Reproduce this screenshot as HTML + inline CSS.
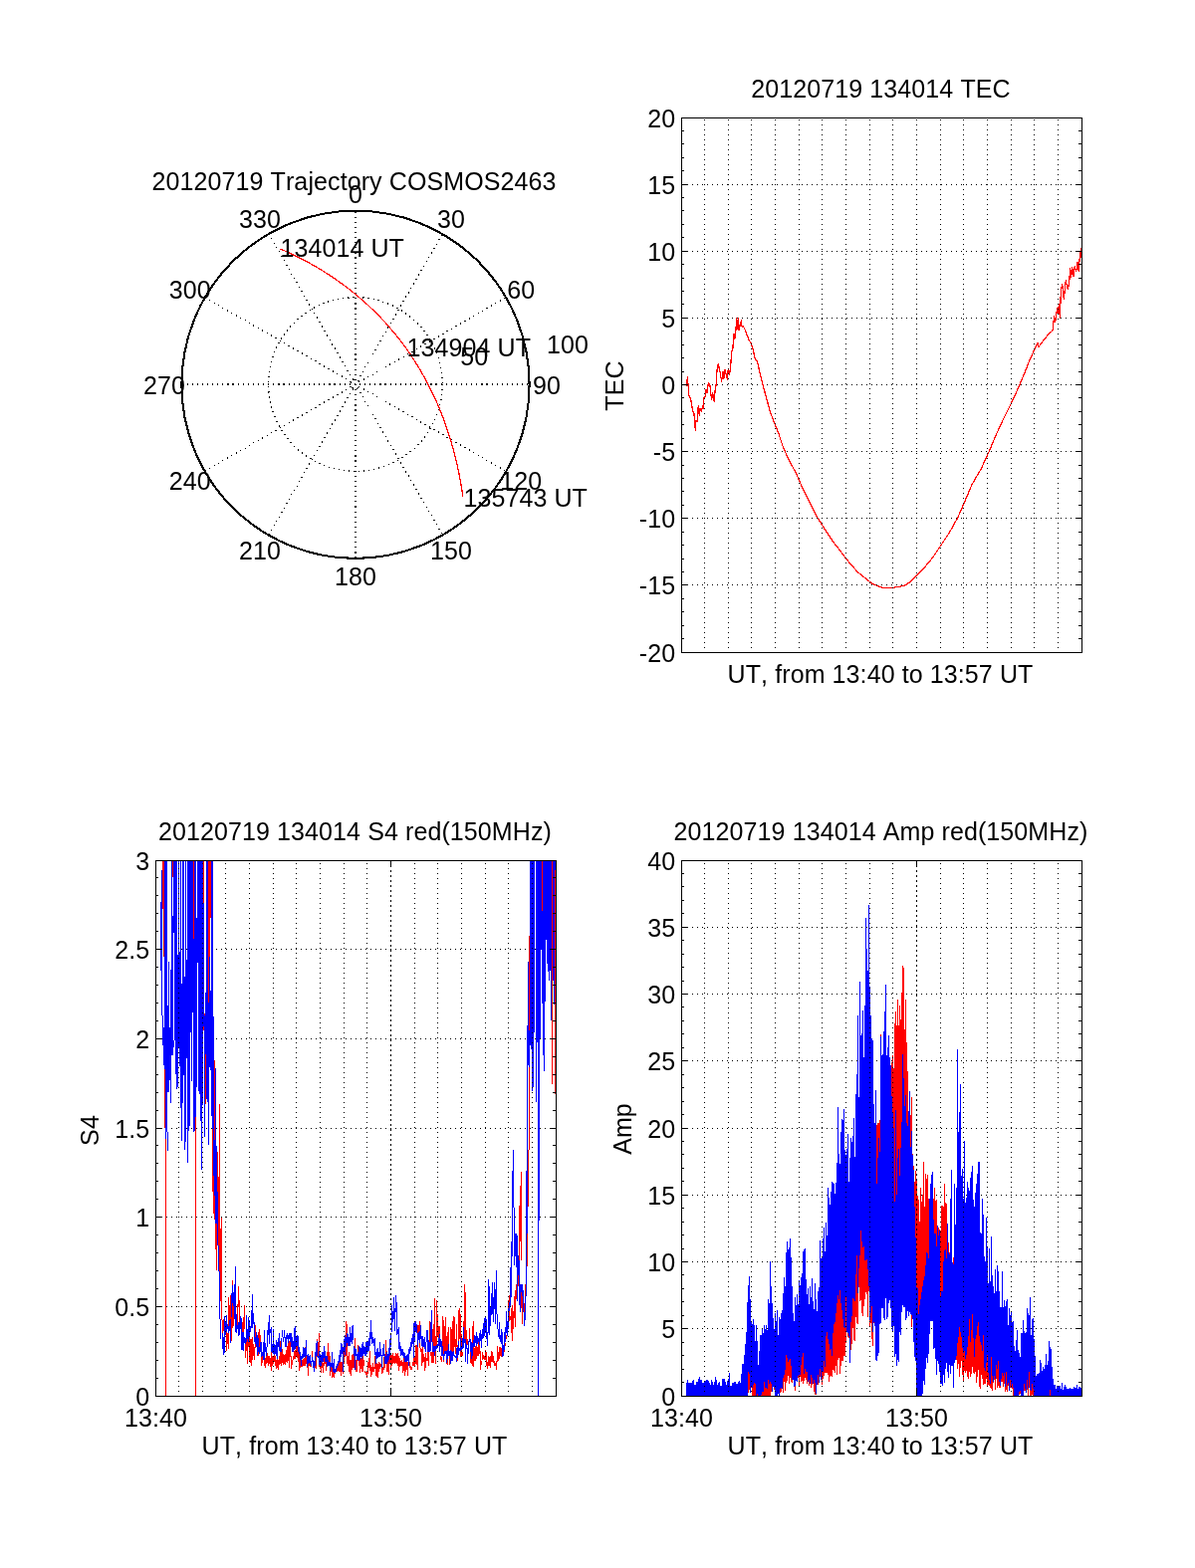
<!DOCTYPE html>
<html lang="en"><head><meta charset="utf-8"><title>20120719 134014 COSMOS2463 TEC / S4 / Amp</title>
<style>
html,body{margin:0;padding:0;background:#fff}
body{width:1200px;height:1575px;overflow:hidden}
svg{display:block}
text{font-family:"Liberation Sans",sans-serif;font-size:25px;fill:#000;font-kerning:none;letter-spacing:0.1px}
.ax{fill:none;stroke:#000;stroke-width:1;shape-rendering:crispEdges}
.gr{fill:none;stroke:#000;stroke-width:1;stroke-dasharray:1 4;shape-rendering:crispEdges}
.r{fill:none;stroke:#f00;stroke-width:1;shape-rendering:crispEdges}
.b{fill:none;stroke:#00f;stroke-width:1;shape-rendering:crispEdges}
.rl{fill:none;stroke:#f00;stroke-width:1.25;stroke-linejoin:round;shape-rendering:crispEdges}
.pg{fill:none;stroke:#000;stroke-width:1.25;stroke-dasharray:1.2 3.9;shape-rendering:crispEdges}
.pc{fill:none;stroke:#000;stroke-width:2.1;shape-rendering:crispEdges}
</style></head><body>
<svg width="1200" height="1575" viewBox="0 0 1200 1575">
<rect width="1200" height="1575" fill="#fff"/>
<g id="polar">
<path class="pg" d="M357 560.6L357 211.4M269.7 537.21L444.3 234.79M205.79 473.3L508.21 298.7M182.4 386L531.6 386M205.79 298.7L508.21 473.3M269.7 234.79L444.3 537.21"/>
<circle class="pg" cx="357.0" cy="386.0" r="87.3"/>
<circle class="pg" cx="357.0" cy="386.0" r="4.8"/>
<circle class="pc" cx="357.0" cy="386.3" r="174.6"/>
<path class="rl" d="M281.6 250L288.9 253.3L296.3 256.8L303.5 260.4L310.6 264.2L317.7 268.2L324.6 272.4L331.5 276.8L338.2 281.4L344.8 286.1L351.2 291L357.6 296.1L363.7 301.4L369.8 306.8L375.6 312.4L381.3 318.1L386.9 324L392.2 330.1L397.4 336.3L402.4 342.6L407.3 349.1L411.9 355.7L416.4 362.5L420.6 369.4L424.7 376.4L428.6 383.5L432.3 390.7L435.9 398L439.2 405.4L442.3 412.9L445.3 420.4L448 428.1L450.6 435.8L453 443.6L455.2 451.4L457.2 459.2L459.1 467.1L460.8 475L462.3 483L463.7 490.9L464.9 498.9"/>
<text x="357" y="203.64" text-anchor="middle">0</text>
<text x="453.03" y="229.37" text-anchor="middle">30</text>
<text x="523.33" y="299.67" text-anchor="middle">60</text>
<text x="549.06" y="395.7" text-anchor="middle">90</text>
<text x="523.33" y="491.73" text-anchor="middle">120</text>
<text x="453.03" y="562.03" text-anchor="middle">150</text>
<text x="357" y="587.76" text-anchor="middle">180</text>
<text x="260.97" y="562.03" text-anchor="middle">210</text>
<text x="190.67" y="491.73" text-anchor="middle">240</text>
<text x="164.94" y="395.7" text-anchor="middle">270</text>
<text x="190.67" y="299.67" text-anchor="middle">300</text>
<text x="260.97" y="229.37" text-anchor="middle">330</text>
<text x="549" y="354.6" text-anchor="start">100</text>
<text x="462.3" y="366.7" text-anchor="start">50</text>
<text x="281.4" y="258.4" text-anchor="start">134014 UT</text>
<text x="408.5" y="358.2" text-anchor="start">134904 UT</text>
<text x="465.4" y="508.7" text-anchor="start">135743 UT</text>
<text x="355.5" y="190.8" text-anchor="middle">20120719 Trajectory COSMOS2463</text>
</g>
<g id="tec">
<path class="gr" d="M685 587.5H1086M685 520.5H1086M685 453.5H1086M685 386.5H1086M685 319.5H1086M685 252.5H1086M685 185.5H1086"/>
<path class="rl" d="M689.4 387.5L690.4 378.8L691.9 397.5L693.75 401.25L695.6 412.5L696.9 415L698.4 432.5L698.75 422.5L700 423.75L701.25 407.5L702.25 417.5L703.1 410L704.4 413L705.6 407.5L706.5 410L706.9 400L708.1 398.75L709 391.25L710 395L711.25 385L712.75 386.25L713.5 392.5L714.6 401.9L715.6 394.4L717.1 403.1L718.1 392.5L719.4 385L720 371.25L721.25 365.6L723.1 373.75L724.6 383.1L726 373.75L726.9 380L728.1 371.25L729.4 377.5L730.4 381.25L731.25 370.6L732.5 376.25L733.75 367.5L734.6 353.75L735.9 350L736.9 335.6L737.9 340L738.75 333.75L739.75 319.4L740.6 330.6L741.5 319.4L742.1 331.9L743.4 325L744.4 321.9L745 328.1L746.25 327.5L748.1 331.25L750 336.25L751.9 341.25L754.4 345L756.25 351.25L758.1 360L760.6 363.75L763.1 375L766.25 387.5L770 401.25L773.75 415L775.8 420L781.7 435L786.7 450L791.7 460.8L800 476.7L805.8 490L813.3 505L820 518.3L828.3 531.7L836.7 544.2L845 555L853.3 565.8L861.7 575L870 581.7L876.7 586.7L885 590L894.2 590.8L903.3 589.2L908.3 588.3L913.3 585L920 578.3L928.3 570L936.7 560L945 547.5L953.3 535L961.7 520L968.3 505L976 486.7L985.3 470.7L993.3 453.3L1000 437.3L1006.7 422.7L1014.7 406.7L1022.7 389.3L1028 376.7L1033.3 363.3L1038.7 351.3L1040.7 347.3L1042 344.7L1042.9 348.7L1046.7 343.3L1052 336.7L1057 332L1058 323.3L1058.7 318L1059.6 323.3L1060.7 316.7L1061.6 310L1062.7 315.3L1063.3 306L1064.4 319.3L1065.3 292.7L1066.7 285.3L1067.6 295.3L1068.4 300.7L1069.3 290L1070.4 281.3L1071.3 287.3L1072.4 290.7L1073.7 283.3L1074.7 269.3L1075.7 278L1076.7 268.7L1078 277.3L1079.3 267.3L1080.7 272.7L1082 263.3L1083.3 272.7L1084 260.7L1084.7 258.7L1085.3 249.3L1085.7 258.7"/>
<path class="gr" d="M707.5 656V119M731.5 656V119M754.5 656V119M778.5 656V119M802.5 656V119M825.5 656V119M849.5 656V119M873.5 656V119M896.5 656V119M920.5 656V119M944.5 656V119M967.5 656V119M991.5 656V119M1015.5 656V119M1038.5 656V119M1062.5 656V119"/>
<path class="ax" d="M684.5 118.5H1086.5V655.5H684.5Z"/>
<path class="ax" d="M684 655.5h7M1087 655.5h-7M684 587.5h7M1087 587.5h-7M684 520.5h7M1087 520.5h-7M684 453.5h7M1087 453.5h-7M684 386.5h7M1087 386.5h-7M684 319.5h7M1087 319.5h-7M684 252.5h7M1087 252.5h-7M684 185.5h7M1087 185.5h-7M684 118.5h7M1087 118.5h-7M684 641.5h3M1087 641.5h-4M684 628.5h3M1087 628.5h-4M684 614.5h3M1087 614.5h-4M684 601.5h3M1087 601.5h-4M684 574.5h3M1087 574.5h-4M684 561.5h3M1087 561.5h-4M684 547.5h3M1087 547.5h-4M684 534.5h3M1087 534.5h-4M684 507.5h3M1087 507.5h-4M684 493.5h3M1087 493.5h-4M684 480.5h3M1087 480.5h-4M684 467.5h3M1087 467.5h-4M684 440.5h3M1087 440.5h-4M684 426.5h3M1087 426.5h-4M684 413.5h3M1087 413.5h-4M684 399.5h3M1087 399.5h-4M684 373.5h3M1087 373.5h-4M684 359.5h3M1087 359.5h-4M684 346.5h3M1087 346.5h-4M684 332.5h3M1087 332.5h-4M684 305.5h3M1087 305.5h-4M684 292.5h3M1087 292.5h-4M684 279.5h3M1087 279.5h-4M684 265.5h3M1087 265.5h-4M684 238.5h3M1087 238.5h-4M684 225.5h3M1087 225.5h-4M684 211.5h3M1087 211.5h-4M684 198.5h3M1087 198.5h-4M684 171.5h3M1087 171.5h-4M684 158.5h3M1087 158.5h-4M684 144.5h3M1087 144.5h-4M684 131.5h3M1087 131.5h-4"/>
<text x="678.2" y="664.8" text-anchor="end">-20</text>
<text x="678.2" y="596.8" text-anchor="end">-15</text>
<text x="678.2" y="529.8" text-anchor="end">-10</text>
<text x="678.2" y="462.8" text-anchor="end">-5</text>
<text x="678.2" y="395.8" text-anchor="end">0</text>
<text x="678.2" y="328.8" text-anchor="end">5</text>
<text x="678.2" y="261.8" text-anchor="end">10</text>
<text x="678.2" y="194.8" text-anchor="end">15</text>
<text x="678.2" y="127.8" text-anchor="end">20</text>
<text x="884.5" y="97.5" text-anchor="middle">20120719 134014 TEC</text>
<text x="884" y="685.5" text-anchor="middle">UT, from 13:40 to 13:57 UT</text>
<text x="626" y="387.5" text-anchor="middle" transform="rotate(-90 626 387.5)">TEC</text>
</g>
<g id="s4">
<path class="gr" d="M157 1312.5H558M157 1222.5H558M157 1133.5H558M157 1043.5H558M157 953.5H558"/>
<path class="r" d="M223.5 1326V1345M224.5 1325V1337M227.5 1338V1357M228.5 1339V1350M229.5 1303V1355M230.5 1311V1327M231.5 1301V1325M232.5 1323V1347M233.5 1286V1334M234.5 1312V1332M238.5 1310V1331M239.5 1292V1313M240.5 1306V1335M243.5 1328V1338M244.5 1323V1338M245.5 1311V1335M246.5 1350V1364M247.5 1348V1357M248.5 1345V1370M249.5 1342V1353M250.5 1343V1368M251.5 1345V1369M252.5 1345V1372M253.5 1343V1366M254.5 1350V1362M255.5 1353V1366M256.5 1331V1354M258.5 1358V1362M259.5 1338V1362M260.5 1335V1353M261.5 1341V1354M262.5 1363V1372M263.5 1362V1369M265.5 1366V1372M266.5 1364V1374M267.5 1362V1370M268.5 1359V1369M269.5 1362V1372M270.5 1362V1370M271.5 1364V1373M272.5 1357V1377M273.5 1362V1372M274.5 1362V1370M275.5 1361V1368M276.5 1362V1372M277.5 1366V1375M278.5 1365V1374M279.5 1366V1376M280.5 1362V1371M281.5 1347V1370M282.5 1358V1372M283.5 1355V1369M284.5 1360V1371M285.5 1361V1370M286.5 1360V1371M287.5 1356V1368M288.5 1352V1369M289.5 1349V1367M290.5 1347V1374M291.5 1348V1363M292.5 1362V1375M293.5 1366V1371M294.5 1362V1366M295.5 1357V1365M296.5 1356V1365M297.5 1353V1362M298.5 1352V1364M299.5 1353V1368M300.5 1358V1377M301.5 1366V1374M302.5 1368V1373M303.5 1366V1373M304.5 1365V1372M305.5 1364V1372M306.5 1353V1372M307.5 1362V1370M308.5 1372V1374M309.5 1370V1382M310.5 1369V1372M311.5 1370V1373M312.5 1371V1373M313.5 1357V1363M316.5 1371V1374M317.5 1362V1375M318.5 1345V1353M319.5 1348V1362M320.5 1339V1373M321.5 1370V1375M322.5 1372V1379M323.5 1368V1374M324.5 1369V1379M325.5 1364V1372M326.5 1357V1370M327.5 1368V1377M328.5 1358V1373M329.5 1349V1368M330.5 1358V1372M331.5 1362V1382M332.5 1373V1378M333.5 1374V1384M334.5 1376V1383M335.5 1375V1384M336.5 1378V1380M337.5 1374V1378M338.5 1372V1378M339.5 1370V1377M340.5 1368V1378M341.5 1367V1378M342.5 1368V1382M343.5 1368V1378M344.5 1372V1380M345.5 1346V1370M346.5 1360V1363M347.5 1327V1362M348.5 1330V1370M349.5 1362V1372M350.5 1358V1378M351.5 1366V1380M352.5 1366V1382M353.5 1361V1376M354.5 1360V1374M355.5 1362V1374M356.5 1344V1373M357.5 1366V1378M358.5 1366V1378M359.5 1351V1367M360.5 1367V1372M361.5 1366V1379M362.5 1364V1375M363.5 1363V1378M364.5 1358V1378M365.5 1366V1372M366.5 1377V1379M367.5 1378V1381M368.5 1378V1384M369.5 1368V1380M370.5 1364V1374M371.5 1357V1377M372.5 1371V1383M373.5 1373V1381M374.5 1369V1378M375.5 1373V1378M376.5 1362V1375M377.5 1370V1382M378.5 1369V1383M379.5 1370V1384M380.5 1368V1378M381.5 1369V1375M382.5 1370V1373M383.5 1374V1380M384.5 1373V1379M385.5 1363V1376M386.5 1360V1374M387.5 1346V1362M388.5 1357V1378M389.5 1365V1378M390.5 1361V1381M391.5 1353V1370M392.5 1360V1375M393.5 1361V1372M394.5 1359V1370M395.5 1362V1369M396.5 1362V1370M397.5 1359V1369M398.5 1360V1370M399.5 1359V1372M400.5 1362V1377M401.5 1364V1373M402.5 1367V1372M403.5 1366V1372M404.5 1368V1379M405.5 1364V1377M406.5 1368V1382M407.5 1367V1378M408.5 1368V1376M409.5 1368V1382M410.5 1368V1372M411.5 1368V1374M412.5 1372V1376M413.5 1373V1376M414.5 1368V1372M415.5 1364V1372M416.5 1363V1372M417.5 1351V1370M418.5 1351V1371M419.5 1331V1376M420.5 1331V1338M421.5 1327V1354M422.5 1354V1358M423.5 1355V1372M424.5 1353V1369M425.5 1360V1368M426.5 1363V1377M427.5 1359V1374M428.5 1364V1367M429.5 1358V1367M430.5 1358V1372M431.5 1327V1353M432.5 1358V1362M433.5 1358V1369M434.5 1335V1369M435.5 1330V1369M436.5 1304V1362M437.5 1342V1370M438.5 1306V1351M439.5 1320V1342M440.5 1332V1344M441.5 1332V1341M442.5 1362V1366M443.5 1363V1368M444.5 1322V1361M445.5 1326V1368M446.5 1332V1358M447.5 1323V1358M448.5 1342V1370M449.5 1338V1371M450.5 1333V1350M451.5 1362V1371M452.5 1333V1357M453.5 1335V1358M454.5 1327V1362M455.5 1322V1362M456.5 1323V1353M457.5 1345V1360M458.5 1330V1353M459.5 1351V1367M460.5 1316V1347M461.5 1314V1345M462.5 1320V1363M463.5 1340V1363M464.5 1358V1362M465.5 1327V1333M466.5 1290V1345M467.5 1298V1346M468.5 1336V1350M469.5 1345V1351M470.5 1352V1353M471.5 1334V1345M472.5 1358V1369M473.5 1365V1370M474.5 1332V1372M475.5 1327V1373M476.5 1354V1367M477.5 1352V1367M478.5 1351V1365M479.5 1353V1362M480.5 1348V1362M481.5 1350V1360M482.5 1357V1376M483.5 1367V1371M484.5 1358V1366M485.5 1361V1365M486.5 1362V1366M487.5 1356V1366M488.5 1358V1372M489.5 1368V1375M490.5 1362V1372M491.5 1363V1372M492.5 1362V1374M493.5 1357V1368M494.5 1358V1368M495.5 1362V1369M496.5 1367V1372M497.5 1369V1372M498.5 1367V1376M499.5 1352V1368M500.5 1358V1367M501.5 1353V1365M502.5 1353V1362M503.5 1354V1363M504.5 1357V1363M505.5 1356V1358M506.5 1356V1358M507.5 1349V1352M508.5 1341V1345M509.5 1335V1342M163.5 865V913M164.5 865V961M165.5 1060V1133M166.5 1100V1402M173.5 865V881M194.5 865V943M196.5 1100V1402M204.5 865V907M204.5 1031V1035M205.5 1018V1020M206.5 1059V1109M209.5 865V1007M210.5 865V961M211.5 865V922M213.5 1134V1197M214.5 1181V1219M215.5 1065V1225M216.5 1168V1255M217.5 1200V1276M218.5 1157V1197M219.5 1182V1251M220.5 1109V1277M221.5 1234V1307M222.5 1223V1326M510.5 1306V1314M511.5 1301V1327M512.5 1322V1326M513.5 1314V1339M514.5 1311V1347M515.5 1317V1335M516.5 1302V1324M517.5 1296V1333M518.5 1290V1305M520.5 1281V1292M521.5 1211V1266M522.5 1191V1247M523.5 1177V1266M523.5 1298V1314M524.5 1302V1330M526.5 1309V1318M527.5 1290V1302M529.5 1239V1272M530.5 1155V1212M531.5 940V1155M544.5 865V915M554.5 865V1089M557.5 865V1099"/>
<path class="b" d="M223.5 1339V1355M224.5 1343V1361M225.5 1322V1359M226.5 1328V1341M227.5 1321V1338M228.5 1330V1335M229.5 1332V1339M230.5 1326V1337M231.5 1325V1349M232.5 1299V1323M233.5 1291V1309M234.5 1298V1312M235.5 1290V1325M236.5 1272V1338M237.5 1320V1339M238.5 1331V1335M239.5 1328V1342M240.5 1328V1341M241.5 1322V1335M242.5 1324V1356M243.5 1338V1356M244.5 1338V1357M245.5 1343V1349M246.5 1344V1350M247.5 1321V1348M248.5 1335V1345M249.5 1323V1348M250.5 1326V1343M251.5 1332V1338M252.5 1316V1334M253.5 1300V1334M254.5 1319V1330M255.5 1328V1348M256.5 1343V1350M257.5 1338V1353M258.5 1341V1361M259.5 1344V1358M260.5 1353V1360M261.5 1348V1358M262.5 1348V1363M263.5 1358V1362M264.5 1348V1366M265.5 1336V1366M266.5 1349V1358M267.5 1353V1362M268.5 1336V1353M269.5 1328V1341M270.5 1321V1350M271.5 1335V1339M272.5 1333V1358M273.5 1350V1359M274.5 1335V1360M275.5 1350V1361M276.5 1351V1360M277.5 1346V1362M278.5 1348V1365M279.5 1344V1353M280.5 1339V1357M281.5 1353V1358M282.5 1344V1358M283.5 1336V1343M284.5 1343V1348M285.5 1336V1344M286.5 1343V1353M287.5 1341V1353M288.5 1339V1345M289.5 1341V1349M290.5 1339V1345M291.5 1339V1348M292.5 1339V1353M293.5 1343V1358M294.5 1347V1358M295.5 1334V1356M296.5 1332V1355M297.5 1342V1353M298.5 1341V1352M299.5 1342V1358M300.5 1353V1360M301.5 1358V1366M302.5 1362V1372M303.5 1360V1365M304.5 1353V1364M305.5 1354V1363M306.5 1354V1364M307.5 1346V1362M308.5 1361V1373M309.5 1360V1370M310.5 1362V1369M311.5 1361V1370M312.5 1367V1372M313.5 1363V1368M314.5 1366V1374M315.5 1367V1378M316.5 1358V1372M317.5 1349V1362M318.5 1347V1363M319.5 1362V1364M320.5 1357V1371M321.5 1360V1372M322.5 1361V1372M323.5 1358V1368M324.5 1358V1368M325.5 1352V1364M326.5 1357V1368M327.5 1362V1368M328.5 1362V1373M329.5 1366V1372M330.5 1368V1372M331.5 1368V1377M332.5 1369V1373M333.5 1358V1374M334.5 1369V1378M335.5 1365V1379M336.5 1375V1379M337.5 1372V1378M338.5 1370V1374M339.5 1367V1372M340.5 1361V1369M341.5 1356V1368M342.5 1349V1363M343.5 1350V1360M344.5 1353V1378M345.5 1345V1357M346.5 1341V1361M347.5 1343V1353M348.5 1339V1349M349.5 1340V1352M350.5 1343V1352M351.5 1333V1352M352.5 1339V1348M353.5 1332V1350M354.5 1331V1346M355.5 1352V1362M356.5 1354V1376M357.5 1355V1362M358.5 1360V1366M359.5 1358V1366M360.5 1352V1367M361.5 1353V1366M362.5 1354V1363M363.5 1350V1365M364.5 1348V1362M365.5 1352V1360M366.5 1353V1362M367.5 1348V1362M368.5 1348V1360M369.5 1347V1358M370.5 1344V1357M371.5 1338V1352M372.5 1326V1345M373.5 1338V1350M374.5 1343V1349M375.5 1345V1352M376.5 1344V1361M377.5 1358V1370M378.5 1355V1365M379.5 1354V1364M380.5 1358V1363M381.5 1348V1363M382.5 1355V1362M383.5 1361V1374M384.5 1354V1362M385.5 1350V1362M386.5 1360V1370M387.5 1362V1370M388.5 1358V1370M389.5 1360V1368M390.5 1354V1366M391.5 1345V1362M392.5 1340V1353M393.5 1311V1338M394.5 1317V1328M395.5 1303V1325M396.5 1314V1337M397.5 1301V1318M398.5 1308V1341M399.5 1335V1340M400.5 1333V1355M401.5 1348V1357M402.5 1352V1362M403.5 1355V1361M404.5 1355V1362M405.5 1358V1364M406.5 1359V1368M407.5 1362V1368M408.5 1361V1368M409.5 1360V1367M410.5 1355V1372M411.5 1353V1360M412.5 1348V1357M413.5 1344V1353M414.5 1340V1350M415.5 1329V1364M416.5 1327V1347M417.5 1327V1338M418.5 1330V1339M419.5 1339V1353M420.5 1338V1346M421.5 1337V1349M422.5 1331V1345M423.5 1342V1352M424.5 1342V1353M425.5 1345V1353M426.5 1343V1355M427.5 1348V1358M428.5 1336V1348M429.5 1336V1358M430.5 1346V1358M431.5 1348V1358M432.5 1328V1357M433.5 1316V1348M434.5 1348V1358M435.5 1352V1358M436.5 1352V1362M437.5 1352V1357M438.5 1351V1355M439.5 1350V1354M440.5 1344V1352M441.5 1340V1358M442.5 1345V1353M443.5 1347V1362M444.5 1352V1362M445.5 1360V1366M446.5 1357V1362M447.5 1357V1360M448.5 1357V1369M449.5 1356V1365M450.5 1350V1362M451.5 1357V1362M452.5 1356V1370M453.5 1357V1367M454.5 1358V1367M455.5 1357V1362M456.5 1361V1363M457.5 1362V1364M458.5 1354V1368M459.5 1353V1364M460.5 1347V1361M461.5 1354V1357M462.5 1344V1357M463.5 1352V1356M464.5 1344V1355M465.5 1333V1354M466.5 1345V1349M467.5 1345V1368M468.5 1350V1355M469.5 1354V1370M470.5 1347V1360M471.5 1345V1348M472.5 1345V1358M473.5 1348V1365M474.5 1349V1362M475.5 1346V1353M476.5 1341V1353M477.5 1342V1349M478.5 1338V1352M479.5 1342V1350M480.5 1344V1348M481.5 1339V1351M482.5 1336V1347M483.5 1340V1354M484.5 1335V1345M485.5 1329V1344M486.5 1324V1342M487.5 1322V1339M488.5 1325V1345M489.5 1338V1352M490.5 1285V1339M491.5 1292V1341M492.5 1313V1332M493.5 1299V1321M494.5 1288V1320M495.5 1303V1328M496.5 1288V1315M497.5 1295V1330M498.5 1276V1320M499.5 1320V1335M500.5 1335V1343M501.5 1328V1345M502.5 1341V1348M503.5 1335V1350M504.5 1338V1363M505.5 1351V1362M506.5 1338V1356M507.5 1333V1348M508.5 1317V1339M509.5 1327V1342M161.5 906V975M162.5 874V1020M163.5 1020V1050M164.5 1032V1070M165.5 865V1074M166.5 865V1144M167.5 865V1137M168.5 1010V1097M168.5 1137V1156M169.5 966V1097M170.5 1032V1085M171.5 974V1108M172.5 865V1060M173.5 920V1060M174.5 865V937M174.5 1045V1052M175.5 865V1045M176.5 865V1079M177.5 865V1094M178.5 959V1092M179.5 865V1053M180.5 956V1071M181.5 865V1113M182.5 988V1146M183.5 865V1108M184.5 865V1080M185.5 981V1155M186.5 865V1147M187.5 964V1063M188.5 865V1168M189.5 865V1136M190.5 865V1131M191.5 865V1037M192.5 865V1086M193.5 865V1017M194.5 943V1137M195.5 865V1136M196.5 865V1122M197.5 922V1092M198.5 865V967M199.5 865V1096M200.5 865V1099M201.5 865V1126M202.5 865V1175M203.5 865V1110M204.5 907V1031M205.5 1020V1142M206.5 997V1059M207.5 865V1104M208.5 865V1107M209.5 1007V1150M210.5 961V1072M211.5 995V1075M212.5 865V1121M213.5 865V1134M214.5 1021V1181M215.5 1145V1201M216.5 1073V1229M217.5 1151V1229M218.5 1197V1251M219.5 1251V1277M220.5 1277V1325M221.5 1325V1345M510.5 1314V1335M511.5 1308V1317M512.5 1273V1312M513.5 1247V1303M514.5 1176V1262M515.5 1155V1213M516.5 1213V1271M517.5 1239V1262M518.5 1239V1273M519.5 1241V1307M520.5 1261V1281M521.5 1266V1311M522.5 1290V1318M523.5 1290V1298M524.5 1290V1302M525.5 1296V1318M526.5 1318V1332M527.5 1302V1326M528.5 1176V1302M529.5 1030V1239M530.5 966V1070M531.5 1035V1072M532.5 865V1050M533.5 865V1054M534.5 865V1096M535.5 865V1092M536.5 865V1037M538.5 865V1107M539.5 865V1047M540.5 865V1402M541.5 865V1226M542.5 865V1043M543.5 865V954M544.5 915V1008M545.5 865V1060M546.5 865V1076M547.5 865V1006M548.5 865V944M549.5 865V968M550.5 865V976M551.5 865V985M552.5 865V975M553.5 865V1025M555.5 865V985M556.5 865V1009M557.5 865V874"/>
<path class="gr" d="M179.5 1403V865M203.5 1403V865M226.5 1403V865M250.5 1403V865M274.5 1403V865M297.5 1403V865M321.5 1403V865M345.5 1403V865M368.5 1403V865M416.5 1403V865M439.5 1403V865M463.5 1403V865M487.5 1403V865M510.5 1403V865M534.5 1403V865"/>
<path class="gr" d="M392.5 1401V865"/>
<path class="gr" d="M392.5 1400V865"/>
<path class="ax" d="M156.5 864.5H558.5V1402.5H156.5Z"/>
<path class="ax" d="M156 1402.5h7M559 1402.5h-7M156 1312.5h7M559 1312.5h-7M156 1222.5h7M559 1222.5h-7M156 1133.5h7M559 1133.5h-7M156 1043.5h7M559 1043.5h-7M156 953.5h7M559 953.5h-7M156 864.5h7M559 864.5h-7M156 1384.5h3M559 1384.5h-4M156 1366.5h3M559 1366.5h-4M156 1348.5h3M559 1348.5h-4M156 1330.5h3M559 1330.5h-4M156 1294.5h3M559 1294.5h-4M156 1276.5h3M559 1276.5h-4M156 1258.5h3M559 1258.5h-4M156 1240.5h3M559 1240.5h-4M156 1204.5h3M559 1204.5h-4M156 1186.5h3M559 1186.5h-4M156 1168.5h3M559 1168.5h-4M156 1150.5h3M559 1150.5h-4M156 1115.5h3M559 1115.5h-4M156 1097.5h3M559 1097.5h-4M156 1079.5h3M559 1079.5h-4M156 1061.5h3M559 1061.5h-4M156 1025.5h3M559 1025.5h-4M156 1007.5h3M559 1007.5h-4M156 989.5h3M559 989.5h-4M156 971.5h3M559 971.5h-4M156 935.5h3M559 935.5h-4M156 917.5h3M559 917.5h-4M156 899.5h3M559 899.5h-4M156 881.5h3M559 881.5h-4M156.5 1403v-8M156.5 864v7M392.5 1403v-8M392.5 864v7"/>
<text x="150.2" y="1411.8" text-anchor="end">0</text>
<text x="150.2" y="1321.8" text-anchor="end">0.5</text>
<text x="150.2" y="1231.8" text-anchor="end">1</text>
<text x="150.2" y="1142.8" text-anchor="end">1.5</text>
<text x="150.2" y="1052.8" text-anchor="end">2</text>
<text x="150.2" y="962.8" text-anchor="end">2.5</text>
<text x="150.2" y="873.8" text-anchor="end">3</text>
<text x="156.5" y="1432.5" text-anchor="middle">13:40</text>
<text x="392.5" y="1432.5" text-anchor="middle">13:50</text>
<text x="356.5" y="843.5" text-anchor="middle">20120719 134014 S4 red(150MHz)</text>
<text x="356" y="1460.5" text-anchor="middle">UT, from 13:40 to 13:57 UT</text>
<text x="99" y="1135.5" text-anchor="middle" transform="rotate(-90 99 1135.5)">S4</text>
</g>
<g id="amp">
<path class="gr" d="M685 1334.5H1086M685 1267.5H1086M685 1200.5H1086M685 1133.5H1086M685 1065.5H1086M685 998.5H1086M685 931.5H1086"/>
<path class="r" d="M689.5 1401V1402M690.5 1401V1402M691.5 1401V1402M692.5 1401V1402M693.5 1401V1402M694.5 1401V1402M695.5 1401V1402M696.5 1401V1402M697.5 1401V1402M698.5 1401V1402M699.5 1401V1402M700.5 1401V1402M701.5 1401V1402M702.5 1401V1402M703.5 1401V1402M704.5 1401V1402M705.5 1401V1402M706.5 1401V1402M707.5 1401V1402M708.5 1401V1402M709.5 1401V1402M710.5 1401V1402M711.5 1401V1402M712.5 1401V1402M713.5 1401V1402M714.5 1401V1402M715.5 1401V1402M716.5 1401V1402M717.5 1401V1402M718.5 1401V1402M719.5 1401V1402M720.5 1401V1402M721.5 1401V1402M722.5 1401V1402M723.5 1401V1402M724.5 1401V1402M725.5 1401V1402M726.5 1401V1402M727.5 1401V1402M728.5 1401V1402M729.5 1401V1402M730.5 1401V1402M731.5 1401V1402M732.5 1401V1402M733.5 1401V1402M734.5 1401V1402M735.5 1401V1402M736.5 1401V1402M737.5 1401V1402M738.5 1401V1402M739.5 1401V1402M740.5 1401V1402M741.5 1401V1402M742.5 1401V1402M743.5 1401V1402M744.5 1401V1402M745.5 1401V1402M746.5 1401V1402M747.5 1401V1402M748.5 1401V1402M749.5 1401V1402M751.5 1377V1399M752.5 1379V1396M754.5 1391V1394M755.5 1393V1402M756.5 1390V1402M757.5 1388V1402M758.5 1389V1402M759.5 1401V1402M760.5 1399V1402M761.5 1401V1402M762.5 1401V1402M763.5 1401V1402M764.5 1400V1402M765.5 1397V1402M766.5 1397V1402M767.5 1387V1402M768.5 1393V1402M769.5 1393V1402M770.5 1394V1402M771.5 1385V1402M772.5 1389V1402M773.5 1387V1402M774.5 1389V1398M777.5 1393V1396M783.5 1394V1399M784.5 1393V1398M786.5 1383V1399M787.5 1380V1388M788.5 1375V1397M789.5 1360V1389M790.5 1363V1387M791.5 1367V1382M792.5 1365V1390M793.5 1364V1384M794.5 1371V1388M795.5 1385V1389M798.5 1391V1397M801.5 1381V1384M802.5 1380V1393M803.5 1380V1383M804.5 1370V1388M805.5 1362V1387M806.5 1358V1390M807.5 1379V1387M808.5 1374V1384M809.5 1377V1386M810.5 1377V1390M812.5 1385V1392M814.5 1380V1394M815.5 1383V1391M817.5 1385V1398M818.5 1388V1401M819.5 1399V1401M820.5 1390V1391M821.5 1380V1391M823.5 1374V1383M825.5 1376V1391M826.5 1377V1385M827.5 1366V1382M828.5 1372V1379M829.5 1341V1379M830.5 1337V1379M831.5 1344V1381M832.5 1349V1388M833.5 1355V1383M834.5 1354V1382M835.5 1361V1383M836.5 1338V1376M837.5 1329V1377M838.5 1327V1379M839.5 1318V1372M840.5 1308V1381M841.5 1300V1366M842.5 1304V1364M843.5 1295V1380M844.5 1308V1372M845.5 1315V1367M846.5 1324V1367M847.5 1332V1362M848.5 1333V1362M849.5 1302V1349M851.5 1338V1343M852.5 1341V1344M854.5 1327V1356M855.5 1321V1350M856.5 1303V1334M857.5 1304V1346M858.5 1306V1347M859.5 1279V1323M860.5 1260V1329M861.5 1298V1330M862.5 1273V1293M863.5 1260V1307M864.5 1235V1306M865.5 1246V1319M866.5 1252V1322M867.5 1251V1312M868.5 1265V1305M869.5 1265V1298M870.5 1264V1300M871.5 1274V1323M872.5 1291V1297M873.5 1325V1333M874.5 1318V1329M875.5 1311V1345M876.5 1337V1352M877.5 1128V1329M878.5 1128V1129M879.5 1130V1131M880.5 1130V1190M881.5 1128V1164M882.5 1128V1144M883.5 1125V1158M884.5 1039V1042M885.5 1069V1070M886.5 1068V1070M887.5 1068V1069M888.5 1067V1068M889.5 1066V1067M890.5 1066V1067M891.5 1064V1065M892.5 1063V1064M893.5 1062V1063M894.5 1070V1071M895.5 1067V1102M896.5 1060V1118M897.5 1073V1134M898.5 1028V1208M899.5 1016V1116M900.5 1030V1201M901.5 1004V1164M902.5 1030V1155M903.5 1010V1182M904.5 1024V1154M905.5 997V1128M906.5 970V1060M907.5 972V1084M908.5 1034V1112M909.5 1004V1101M910.5 1047V1129M911.5 1076V1132M912.5 1116V1117M913.5 1107V1108M914.5 1120V1153M915.5 1102V1333M916.5 1159V1161M917.5 1171V1176M918.5 1187V1213M919.5 1176V1244M920.5 1185V1294M921.5 1201V1295M922.5 1205V1321M923.5 1227V1312M924.5 1193V1306M925.5 1207V1299M926.5 1200V1293M927.5 1167V1287M928.5 1212V1283M929.5 1179V1272M930.5 1184V1259M931.5 1180V1260M932.5 1204V1265M933.5 1204V1205M934.5 1204V1205M935.5 1204V1205M936.5 1204V1205M937.5 1204V1226M938.5 1193V1240M939.5 1206V1240M940.5 1205V1253M941.5 1231V1232M942.5 1233V1242M943.5 1235V1237M944.5 1236V1303M945.5 1211V1298M946.5 1211V1298M947.5 1212V1268M948.5 1189V1257M949.5 1208V1256M950.5 1209V1265M951.5 1229V1230M952.5 1248V1259M953.5 1258V1261M954.5 1262V1263M955.5 1266V1267M956.5 1268V1269M957.5 1263V1271M958.5 1276V1277M960.5 1361V1366M961.5 1348V1375M962.5 1342V1370M963.5 1332V1383M964.5 1337V1374M965.5 1342V1367M966.5 1353V1381M967.5 1358V1388M968.5 1356V1377M969.5 1364V1379M970.5 1360V1377M971.5 1352V1383M972.5 1341V1385M973.5 1324V1378M974.5 1347V1383M975.5 1335V1380M976.5 1319V1373M977.5 1343V1379M978.5 1362V1380M979.5 1344V1378M980.5 1340V1389M981.5 1331V1383M982.5 1327V1376M983.5 1341V1393M984.5 1347V1395M985.5 1350V1381M986.5 1356V1385M987.5 1340V1391M988.5 1373V1390M989.5 1376V1390M990.5 1368V1385M991.5 1360V1392M992.5 1378V1391M993.5 1385V1392M994.5 1389V1394M995.5 1362V1395M996.5 1381V1397M997.5 1387V1389M998.5 1381V1386M999.5 1384V1396M1000.5 1370V1385M1001.5 1374V1394M1002.5 1366V1392M1003.5 1387V1394M1004.5 1391V1394M1005.5 1384V1388M1006.5 1378V1388M1007.5 1381V1393M1008.5 1378V1390M1009.5 1392V1398M1010.5 1377V1396M1011.5 1390V1398M1012.5 1388V1392M1014.5 1385V1394M1016.5 1389V1395M1017.5 1393V1402M1018.5 1401V1402M1020.5 1401V1402M1023.5 1397V1401M1024.5 1396V1400M1025.5 1401V1402M1026.5 1401V1402M1028.5 1389V1397M1029.5 1394V1397M1031.5 1385V1396M1032.5 1394V1402M1033.5 1377V1394M1034.5 1395V1402M1035.5 1396V1402M1036.5 1389V1401M1037.5 1394V1402M1038.5 1401V1402M1039.5 1401V1402M1040.5 1401V1402M1041.5 1401V1402M1042.5 1401V1402M1043.5 1401V1402M1044.5 1401V1402M1045.5 1401V1402M1046.5 1401V1402M1047.5 1401V1402M1048.5 1401V1402M1049.5 1401V1402M1050.5 1401V1402M1051.5 1401V1402M1052.5 1401V1402M1053.5 1401V1402M1054.5 1395V1402M1055.5 1401V1402M1056.5 1401V1402M1057.5 1401V1402M1058.5 1401V1402M1059.5 1401V1402M1060.5 1401V1402M1061.5 1401V1402M1062.5 1401V1402M1063.5 1401V1402M1064.5 1401V1402M1065.5 1401V1402M1066.5 1401V1402M1067.5 1401V1402M1068.5 1401V1402M1069.5 1401V1402M1070.5 1401V1402M1071.5 1401V1402M1072.5 1401V1402M1073.5 1401V1402M1074.5 1401V1402M1075.5 1401V1402M1076.5 1401V1402M1077.5 1401V1402M1078.5 1401V1402M1079.5 1401V1402M1080.5 1401V1402M1081.5 1401V1402M1082.5 1401V1402M1083.5 1401V1402M1084.5 1401V1402M1085.5 1401V1402"/>
<path class="b" d="M689.5 1389V1402M690.5 1386V1402M691.5 1389V1402M692.5 1389V1402M693.5 1389V1402M694.5 1389V1402M695.5 1387V1402M696.5 1386V1402M697.5 1391V1402M698.5 1391V1402M699.5 1388V1402M700.5 1388V1402M701.5 1385V1402M702.5 1383V1402M703.5 1386V1402M704.5 1386V1402M705.5 1389V1402M706.5 1389V1402M707.5 1387V1402M708.5 1387V1402M709.5 1386V1402M710.5 1386V1402M711.5 1387V1402M712.5 1389V1402M713.5 1391V1402M714.5 1386V1402M715.5 1388V1402M716.5 1391V1402M717.5 1388V1402M718.5 1383V1402M719.5 1386V1402M720.5 1391V1402M721.5 1389V1402M722.5 1388V1402M723.5 1392V1402M724.5 1392V1402M725.5 1385V1402M726.5 1385V1402M727.5 1385V1402M728.5 1388V1402M729.5 1391V1402M730.5 1387V1402M731.5 1385V1402M732.5 1379V1402M733.5 1392V1402M734.5 1392V1402M735.5 1389V1402M736.5 1389V1402M737.5 1388V1402M738.5 1388V1402M739.5 1390V1402M740.5 1390V1402M741.5 1388V1402M742.5 1387V1402M743.5 1389V1402M744.5 1380V1402M745.5 1370V1402M746.5 1370V1402M747.5 1361V1402M748.5 1350V1402M749.5 1338V1402M750.5 1308V1402M751.5 1291V1378M752.5 1282V1380M753.5 1305V1399M754.5 1328V1392M755.5 1330V1394M756.5 1325V1391M757.5 1331V1389M758.5 1347V1390M759.5 1331V1402M760.5 1347V1400M761.5 1371V1402M762.5 1357V1402M763.5 1341V1402M764.5 1341V1401M765.5 1335V1398M766.5 1339V1398M767.5 1331V1388M768.5 1335V1394M769.5 1331V1394M770.5 1336V1395M771.5 1305V1386M772.5 1309V1390M773.5 1267V1388M774.5 1292V1390M775.5 1309V1398M776.5 1324V1393M777.5 1335V1394M778.5 1319V1402M779.5 1327V1402M780.5 1316V1402M781.5 1341V1400M782.5 1323V1402M783.5 1325V1395M784.5 1319V1394M785.5 1316V1395M786.5 1299V1384M787.5 1283V1381M788.5 1292V1376M789.5 1258V1361M790.5 1247V1364M791.5 1255V1368M792.5 1253V1366M793.5 1244V1365M794.5 1263V1372M795.5 1292V1386M796.5 1319V1386M797.5 1327V1393M798.5 1303V1392M799.5 1311V1387M800.5 1300V1388M801.5 1310V1382M802.5 1286V1381M803.5 1291V1381M804.5 1283V1371M805.5 1279V1363M806.5 1257V1359M807.5 1255V1380M808.5 1254V1375M809.5 1285V1378M810.5 1300V1378M811.5 1294V1388M812.5 1310V1386M813.5 1292V1390M814.5 1303V1381M815.5 1284V1384M816.5 1307V1390M817.5 1315V1386M818.5 1289V1389M819.5 1305V1400M820.5 1317V1391M821.5 1297V1381M822.5 1293V1389M823.5 1246V1375M824.5 1264V1386M825.5 1263V1377M826.5 1244V1378M827.5 1233V1367M828.5 1257V1373M829.5 1228V1342M830.5 1241V1338M831.5 1193V1345M832.5 1203V1350M833.5 1210V1356M834.5 1197V1355M835.5 1187V1362M836.5 1188V1339M837.5 1189V1330M838.5 1199V1328M839.5 1188V1319M840.5 1168V1309M841.5 1112V1301M842.5 1159V1305M843.5 1169V1296M844.5 1137V1309M845.5 1124V1316M846.5 1125V1325M847.5 1114V1333M848.5 1155V1334M849.5 1160V1303M850.5 1154V1338M851.5 1139V1339M852.5 1187V1342M853.5 1163V1369M854.5 1143V1328M855.5 1147V1322M856.5 1141V1304M857.5 1123V1305M858.5 1162V1307M859.5 1099V1280M860.5 1079V1261M861.5 1020V1299M862.5 1102V1274M863.5 986V1261M864.5 1040V1236M865.5 1038V1247M866.5 1015V1253M867.5 1062V1252M868.5 1010V1266M869.5 922V1266M870.5 953V1265M871.5 975V1275M872.5 909V1292M873.5 991V1326M874.5 1020V1319M875.5 1043V1312M876.5 1045V1338M877.5 1109V1328M878.5 1128V1332M879.5 1095V1366M880.5 1189V1367M881.5 1163V1362M882.5 1143V1359M883.5 1157V1330M884.5 1041V1329M885.5 1060V1314M886.5 1059V1314M887.5 1036V1324M888.5 1016V1326M889.5 989V1304M890.5 1060V1325M891.5 1052V1323M892.5 1040V1309M893.5 1062V1306M894.5 1070V1314M895.5 1101V1333M896.5 1117V1337M897.5 1133V1332M898.5 1207V1363M899.5 1115V1360M900.5 1200V1372M901.5 1163V1366M902.5 1154V1368M903.5 1181V1338M904.5 1153V1341M905.5 1127V1318M906.5 1059V1311M907.5 1083V1313M908.5 1111V1313M909.5 1100V1326M910.5 1128V1324M911.5 1131V1317M912.5 1116V1322M913.5 1096V1318M914.5 1152V1320M915.5 1136V1321M916.5 1160V1325M917.5 1175V1348M918.5 1212V1363M919.5 1243V1367M920.5 1293V1402M921.5 1294V1402M922.5 1320V1402M923.5 1311V1402M924.5 1305V1402M925.5 1298V1402M926.5 1292V1400M927.5 1286V1387M928.5 1282V1391M929.5 1271V1375M930.5 1258V1364M931.5 1259V1369M932.5 1264V1360M933.5 1204V1340M934.5 1189V1327M935.5 1180V1327M936.5 1177V1327M937.5 1225V1355M938.5 1239V1354M939.5 1239V1365M940.5 1252V1381M941.5 1231V1367M942.5 1241V1370M943.5 1236V1378M944.5 1302V1390M945.5 1297V1390M946.5 1297V1392M947.5 1267V1381M948.5 1256V1389M949.5 1255V1375M950.5 1264V1369M951.5 1229V1378M952.5 1258V1384M953.5 1260V1371M954.5 1204V1380M955.5 1175V1372M956.5 1268V1372M957.5 1270V1394M958.5 1189V1369M959.5 1230V1366M960.5 1193V1362M961.5 1054V1349M962.5 1137V1343M963.5 1117V1333M964.5 1089V1338M965.5 1181V1343M966.5 1174V1354M967.5 1204V1359M968.5 1146V1357M969.5 1208V1365M970.5 1203V1361M971.5 1187V1353M972.5 1193V1342M973.5 1196V1325M974.5 1183V1348M975.5 1177V1336M976.5 1171V1320M977.5 1205V1344M978.5 1212V1363M979.5 1198V1345M980.5 1189V1341M981.5 1179V1332M982.5 1167V1328M983.5 1167V1342M984.5 1238V1348M985.5 1239V1351M986.5 1204V1357M987.5 1220V1341M988.5 1262V1374M989.5 1267V1377M990.5 1223V1369M991.5 1252V1361M992.5 1289V1379M993.5 1254V1386M994.5 1287V1390M995.5 1242V1363M996.5 1281V1382M997.5 1292V1388M998.5 1299V1382M999.5 1275V1385M1000.5 1297V1371M1001.5 1271V1375M1002.5 1277V1367M1003.5 1297V1388M1004.5 1313V1392M1005.5 1313V1385M1006.5 1277V1379M1007.5 1313V1382M1008.5 1306V1379M1009.5 1312V1393M1010.5 1307V1378M1011.5 1305V1391M1012.5 1331V1389M1013.5 1314V1397M1014.5 1321V1386M1015.5 1318V1394M1016.5 1328V1390M1017.5 1327V1394M1018.5 1352V1402M1019.5 1357V1402M1020.5 1346V1402M1021.5 1336V1402M1022.5 1356V1402M1023.5 1359V1398M1024.5 1363V1397M1025.5 1339V1402M1026.5 1339V1402M1027.5 1326V1402M1028.5 1337V1390M1029.5 1339V1395M1030.5 1338V1399M1031.5 1314V1386M1032.5 1319V1395M1033.5 1321V1378M1034.5 1303V1396M1035.5 1341V1397M1036.5 1325V1390M1037.5 1324V1395M1038.5 1345V1402M1039.5 1362V1402M1040.5 1382V1402M1041.5 1380V1402M1042.5 1380V1402M1043.5 1379V1402M1044.5 1366V1402M1045.5 1369V1402M1046.5 1377V1402M1047.5 1373V1402M1048.5 1375V1402M1049.5 1371V1402M1050.5 1360V1402M1051.5 1371V1402M1052.5 1367V1402M1053.5 1347V1402M1054.5 1353V1396M1055.5 1355V1402M1056.5 1373V1402M1057.5 1385V1402M1058.5 1391V1402M1059.5 1391V1402M1060.5 1395V1402M1061.5 1392V1402M1062.5 1393V1402M1063.5 1392V1402M1064.5 1392V1402M1065.5 1395V1402M1066.5 1389V1402M1067.5 1396V1402M1068.5 1393V1402M1069.5 1391V1402M1070.5 1393V1402M1071.5 1395V1402M1072.5 1395V1402M1073.5 1395V1402M1074.5 1394V1402M1075.5 1395V1402M1076.5 1395V1402M1077.5 1395V1402M1078.5 1393V1402M1079.5 1394V1402M1080.5 1394V1402M1081.5 1391V1402M1082.5 1395V1402M1083.5 1393V1402M1084.5 1393V1402M1085.5 1394V1402"/>
<path class="gr" d="M707.5 1403V865M731.5 1403V865M754.5 1403V865M778.5 1403V865M802.5 1403V865M825.5 1403V865M849.5 1403V865M873.5 1403V865M896.5 1403V865M944.5 1403V865M967.5 1403V865M991.5 1403V865M1015.5 1403V865M1038.5 1403V865M1062.5 1403V865"/>
<path class="gr" d="M920.5 1401V865"/>
<path class="gr" d="M920.5 1400V865"/>
<path class="ax" d="M684.5 864.5H1086.5V1402.5H684.5Z"/>
<path class="ax" d="M684 1402.5h7M1087 1402.5h-7M684 1334.5h7M1087 1334.5h-7M684 1267.5h7M1087 1267.5h-7M684 1200.5h7M1087 1200.5h-7M684 1133.5h7M1087 1133.5h-7M684 1065.5h7M1087 1065.5h-7M684 998.5h7M1087 998.5h-7M684 931.5h7M1087 931.5h-7M684 864.5h7M1087 864.5h-7M684 1388.5h3M1087 1388.5h-4M684 1375.5h3M1087 1375.5h-4M684 1361.5h3M1087 1361.5h-4M684 1348.5h3M1087 1348.5h-4M684 1321.5h3M1087 1321.5h-4M684 1307.5h3M1087 1307.5h-4M684 1294.5h3M1087 1294.5h-4M684 1280.5h3M1087 1280.5h-4M684 1254.5h3M1087 1254.5h-4M684 1240.5h3M1087 1240.5h-4M684 1227.5h3M1087 1227.5h-4M684 1213.5h3M1087 1213.5h-4M684 1186.5h3M1087 1186.5h-4M684 1173.5h3M1087 1173.5h-4M684 1159.5h3M1087 1159.5h-4M684 1146.5h3M1087 1146.5h-4M684 1119.5h3M1087 1119.5h-4M684 1106.5h3M1087 1106.5h-4M684 1092.5h3M1087 1092.5h-4M684 1079.5h3M1087 1079.5h-4M684 1052.5h3M1087 1052.5h-4M684 1038.5h3M1087 1038.5h-4M684 1025.5h3M1087 1025.5h-4M684 1011.5h3M1087 1011.5h-4M684 985.5h3M1087 985.5h-4M684 971.5h3M1087 971.5h-4M684 958.5h3M1087 958.5h-4M684 944.5h3M1087 944.5h-4M684 917.5h3M1087 917.5h-4M684 904.5h3M1087 904.5h-4M684 890.5h3M1087 890.5h-4M684 877.5h3M1087 877.5h-4M684.5 1403v-8M684.5 864v7M920.5 1403v-8M920.5 864v7"/>
<text x="678.2" y="1411.8" text-anchor="end">0</text>
<text x="678.2" y="1343.8" text-anchor="end">5</text>
<text x="678.2" y="1276.8" text-anchor="end">10</text>
<text x="678.2" y="1209.8" text-anchor="end">15</text>
<text x="678.2" y="1142.8" text-anchor="end">20</text>
<text x="678.2" y="1074.8" text-anchor="end">25</text>
<text x="678.2" y="1007.8" text-anchor="end">30</text>
<text x="678.2" y="940.8" text-anchor="end">35</text>
<text x="678.2" y="873.8" text-anchor="end">40</text>
<text x="684.5" y="1432.5" text-anchor="middle">13:40</text>
<text x="920.5" y="1432.5" text-anchor="middle">13:50</text>
<text x="884.5" y="843.5" text-anchor="middle">20120719 134014 Amp red(150MHz)</text>
<text x="884" y="1460.5" text-anchor="middle">UT, from 13:40 to 13:57 UT</text>
<text x="634" y="1134" text-anchor="middle" transform="rotate(-90 634 1134)">Amp</text>
</g>
</svg></body></html>
